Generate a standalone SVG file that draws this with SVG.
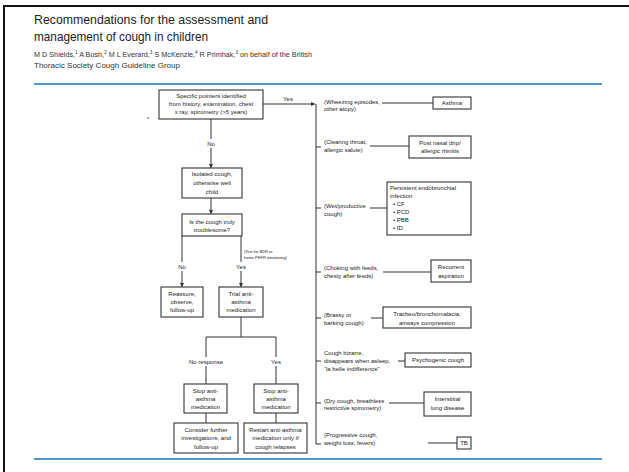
<svg xmlns="http://www.w3.org/2000/svg" width="629" height="472" viewBox="0 0 629 472">
<defs>
<style>
.t{font-family:"Liberation Sans",Arial,sans-serif;font-size:6px;fill:#222;}
.c{text-anchor:middle;}
.s{font-size:4px;}
.box{fill:#fff;stroke:#333;stroke-width:1.1;}
.ln{fill:none;stroke:#333;stroke-width:1;}
.title{font-family:"Liberation Sans",Arial,sans-serif;font-size:13px;fill:#222;}
.auth{font-family:"Liberation Sans",Arial,sans-serif;font-size:7.4px;fill:#333;}
.sup{font-size:4.6px;}
</style>
<marker id="ah" viewBox="0 0 6 6" refX="6" refY="3" markerWidth="4" markerHeight="4" orient="auto">
<path d="M0,0 L6,3 L0,6 z" fill="#333"/>
</marker>
</defs>
<rect width="629" height="472" fill="#fff"/>
<!-- page frame -->
<line x1="3" y1="6" x2="629" y2="6" stroke="#111" stroke-width="2"/>
<line x1="4" y1="5" x2="4" y2="472" stroke="#111" stroke-width="2"/>
<!-- header -->
<text class="title" x="34" y="24" textLength="234" lengthAdjust="spacingAndGlyphs">Recommendations for the assessment and</text>
<text class="title" x="34" y="41" textLength="174" lengthAdjust="spacingAndGlyphs">management of cough in children</text>
<text class="auth" x="34" y="57" textLength="278" lengthAdjust="spacingAndGlyphs">M D Shields,<tspan class="sup" dy="-2.8">1</tspan><tspan dy="2.8"> A Bush,</tspan><tspan class="sup" dy="-2.8">2</tspan><tspan dy="2.8"> M L Everard,</tspan><tspan class="sup" dy="-2.8">3</tspan><tspan dy="2.8"> S McKenzie,</tspan><tspan class="sup" dy="-2.8">4</tspan><tspan dy="2.8"> R Primhak,</tspan><tspan class="sup" dy="-2.8">3</tspan><tspan dy="2.8"> on behalf of the British</tspan></text>
<text class="auth" x="34" y="68" textLength="146" lengthAdjust="spacingAndGlyphs">Thoracic Society Cough Guideline Group</text>
<line x1="34" y1="84" x2="602" y2="84" stroke="#1b75bb" stroke-width="1.5"/>
<line x1="34" y1="459" x2="602" y2="459" stroke="#1b75bb" stroke-width="1.5"/>
<text class="t s" x="147" y="119">a</text>

<g id="connectors">
<line class="ln" x1="263" y1="104" x2="315" y2="104" marker-end="url(#ah)"/>
<line class="ln" x1="211" y1="119" x2="211" y2="139"/>
<line class="ln" x1="211" y1="148" x2="211" y2="168" marker-end="url(#ah)"/>
<line class="ln" x1="211" y1="198" x2="211" y2="214" marker-end="url(#ah)"/>
<line class="ln" x1="182" y1="236" x2="182" y2="262"/>
<line class="ln" x1="182" y1="271" x2="182" y2="287" marker-end="url(#ah)"/>
<line class="ln" x1="241" y1="236" x2="241" y2="262"/>
<line class="ln" x1="241" y1="271" x2="241" y2="287" marker-end="url(#ah)"/>
<polyline class="ln" points="241,317 241,337"/>
<polyline class="ln" points="206,357 206,337 276,337 276,357"/>
<line class="ln" x1="206" y1="366" x2="206" y2="384"/>
<line class="ln" x1="276" y1="366" x2="276" y2="384"/>
<line class="ln" x1="206" y1="413" x2="206" y2="423"/>
<line class="ln" x1="276" y1="413" x2="276" y2="423"/>
<polyline class="ln" points="316,104 316,444 321,444"/>
<line class="ln" x1="316" y1="147" x2="321" y2="147"/>
<line class="ln" x1="316" y1="208" x2="321" y2="208"/>
<line class="ln" x1="316" y1="272" x2="321" y2="272"/>
<line class="ln" x1="316" y1="318" x2="321" y2="318"/>
<line class="ln" x1="316" y1="361" x2="321" y2="361"/>
<line class="ln" x1="316" y1="403" x2="321" y2="403"/>
<line class="ln" x1="382" y1="103" x2="433" y2="103"/>
<line class="ln" x1="370" y1="146" x2="409" y2="146"/>
<line class="ln" x1="370" y1="208" x2="387" y2="208"/>
<line class="ln" x1="383" y1="272" x2="431" y2="272"/>
<line class="ln" x1="371" y1="318" x2="383" y2="318"/>
<line class="ln" x1="398" y1="361" x2="405" y2="361"/>
<line class="ln" x1="389" y1="403" x2="424" y2="403"/>
<line class="ln" x1="428" y1="443" x2="457" y2="443"/>
<text class="t c" x="288" y="101">Yes</text>
<text class="t c" x="211" y="146">No</text>
<text class="t c" x="182" y="269">No</text>
<text class="t c" x="241" y="269">Yes</text>
<text class="t s" x="244" y="253">(Test for BDR or</text>
<text class="t s" x="244" y="259">home PEFR monitoring)</text>
<text class="t c" x="206" y="364">No response</text>
<text class="t c" x="276" y="364">Yes</text>
<text class="t" x="324"><tspan x="324" y="104">(Wheezing episodes,</tspan><tspan x="324" y="111">other atopy)</tspan></text>
<text class="t" x="324"><tspan x="324" y="144">(Clearing throat,</tspan><tspan x="324" y="152">allergic salute)</tspan></text>
<text class="t" x="324"><tspan x="324" y="208">(Wet/productive</tspan><tspan x="324" y="216">cough)</tspan></text>
<text class="t" x="324"><tspan x="324" y="270">(Choking with feeds,</tspan><tspan x="324" y="278">chesty after feeds)</tspan></text>
<text class="t" x="324"><tspan x="324" y="317">(Brassy or</tspan><tspan x="324" y="325">barking cough)</tspan></text>
<text class="t" x="324"><tspan x="324" y="355">Cough bizarre,</tspan><tspan x="324" y="363">disappears when asleep,</tspan><tspan x="324" y="371">“la belle indifference”</tspan></text>
<text class="t" x="324"><tspan x="324" y="403">(Dry cough, breathless</tspan><tspan x="324" y="410">restrictive spirometry)</tspan></text>
<text class="t" x="324"><tspan x="324" y="437">(Progressive cough,</tspan><tspan x="324" y="445">weight loss, fevers)</tspan></text>
</g>

<g id="n1"><rect class="box" x="159" y="90" width="104" height="29"/>
<text class="t c"><tspan x="211" y="98">Specific pointers identified</tspan><tspan x="211" y="106">from history, examination, chest</tspan><tspan x="211" y="114">x ray, spirometry (&gt;5 years)</tspan></text></g>
<g id="n2"><rect class="box" x="182" y="168" width="60" height="30"/>
<text class="t c"><tspan x="212" y="176">Isolated cough,</tspan><tspan x="212" y="185">otherwise well</tspan><tspan x="212" y="194">child</tspan></text></g>
<g id="n3"><rect class="box" x="182" y="214" width="60" height="22"/>
<text class="t c"><tspan x="212" y="224">Is the cough truly</tspan><tspan x="212" y="232">troublesome?</tspan></text></g>
<g id="n4"><rect class="box" x="161" y="287" width="42" height="30"/>
<text class="t c"><tspan x="182" y="296">Reassure,</tspan><tspan x="182" y="304">observe,</tspan><tspan x="182" y="312">follow-up</tspan></text></g>
<g id="n5"><rect class="box" x="219" y="287" width="44" height="30"/>
<text class="t c"><tspan x="241" y="296">Trial anti-</tspan><tspan x="241" y="304">asthma</tspan><tspan x="241" y="312">medication</tspan></text></g>
<g id="n6"><rect class="box" x="184" y="384" width="43" height="29"/>
<text class="t c"><tspan x="205.5" y="393">Stop anti-</tspan><tspan x="205.5" y="401">asthma</tspan><tspan x="205.5" y="409">medication</tspan></text></g>
<g id="n7"><rect class="box" x="254" y="384" width="44" height="29"/>
<text class="t c"><tspan x="276" y="393">Stop anti-</tspan><tspan x="276" y="401">asthma</tspan><tspan x="276" y="409">medication</tspan></text></g>
<g id="n8"><rect class="box" x="174" y="423" width="64" height="30"/>
<text class="t c"><tspan x="206" y="432">Consider further</tspan><tspan x="206" y="440">investigations, and</tspan><tspan x="206" y="449">follow-up</tspan></text></g>
<g id="n9"><rect class="box" x="244" y="423" width="63" height="30"/>
<text class="t c"><tspan x="275.5" y="432">Restart anti-asthma</tspan><tspan x="275.5" y="440">medication only if</tspan><tspan x="275.5" y="449">cough relapses</tspan></text></g>
<g id="asthma"><rect class="box" x="433" y="97" width="38" height="12"/>
<text class="t c" x="452" y="105">Asthma</text></g>
<g id="pnd"><rect class="box" x="409" y="136" width="62" height="22"/>
<text class="t c"><tspan x="440" y="145">Post nasal drip/</tspan><tspan x="440" y="153">allergic rhinitis</tspan></text></g>
<g id="pei"><rect class="box" x="387" y="182" width="84" height="53"/>
<text class="t"><tspan x="390" y="190">Persistent endobronchial</tspan><tspan x="390" y="198">infection</tspan><tspan x="393" y="206">• CF</tspan><tspan x="393" y="214">• PCD</tspan><tspan x="393" y="222">• PBB</tspan><tspan x="393" y="230">• ID</tspan></text></g>
<g id="ra"><rect class="box" x="431" y="260" width="40" height="22"/>
<text class="t c"><tspan x="451" y="269">Recurrent</tspan><tspan x="451" y="278">aspiration</tspan></text></g>
<g id="tbm"><rect class="box" x="383" y="307" width="88" height="21"/>
<text class="t c"><tspan x="427" y="316">Tracheo/bronchomalacia,</tspan><tspan x="427" y="325">airways compression</tspan></text></g>
<g id="psy"><rect class="box" x="405" y="353" width="66" height="14"/>
<text class="t c" x="438" y="362">Psychogenic cough</text></g>
<g id="ild"><rect class="box" x="424" y="392" width="47" height="24"/>
<text class="t c"><tspan x="447.5" y="401">Interstitial</tspan><tspan x="447.5" y="410">lung disease</tspan></text></g>
<g id="tb"><rect class="box" x="457" y="437" width="14" height="12"/>
<text class="t c" x="464" y="445">TB</text></g>
</svg>
